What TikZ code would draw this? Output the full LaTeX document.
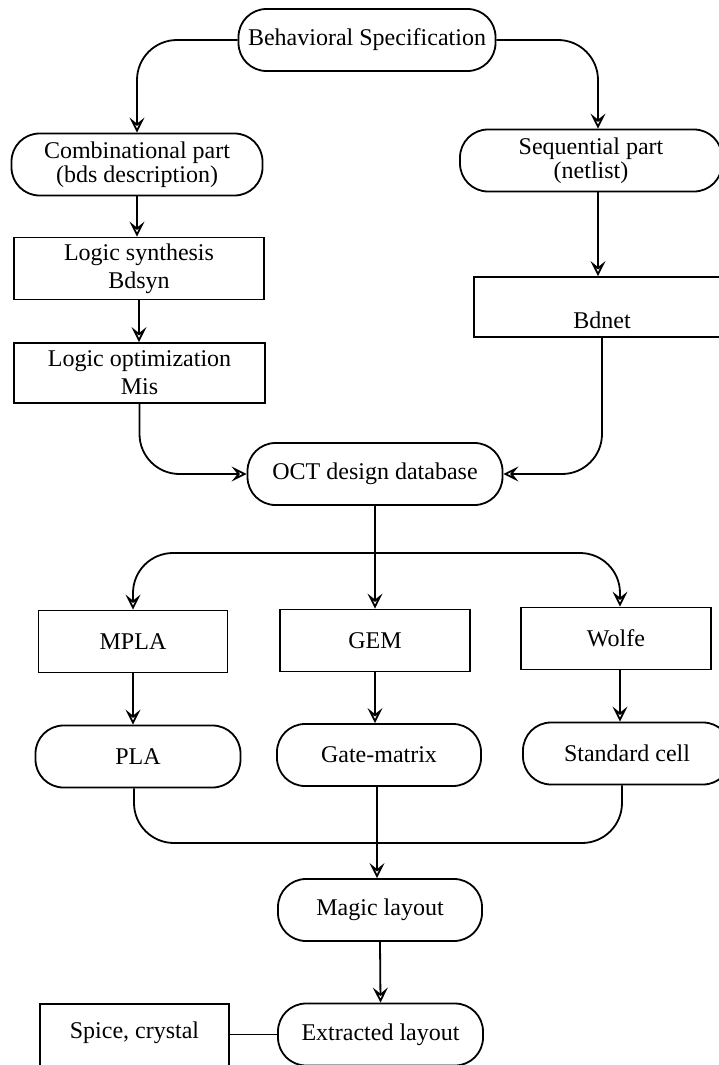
\documentclass[tikz,border=0pt]{standalone}
\usepackage{fontspec}
\setmainfont{Liberation Serif}
\usetikzlibrary{positioning, arrows.meta, calc}

\begin{document}
\begin{tikzpicture}[
  x=1pt, y=-1pt,
  font=\fontsize{24}{27}\selectfont,
  box/.style={draw, line width=1.8pt, align=center, inner sep=2pt, minimum height=62pt},
  pill/.style={box, rounded corners=28pt},
  rect/.style={box},
  flow/.style={line width=1.8pt, rounded corners=40pt},
  arr/.style={flow, -{Stealth[open, length=15pt, width=15pt, inset=6pt]}}
]
\useasboundingbox (0,0) rectangle (719,1065);
\clip (0,0) rectangle (719,1065);

% specification and its two parts
\node[pill, minimum width=257pt] (beh)  at (367,40)    {Behavioral Specification};
\node[pill, minimum width=251pt] (comb) at (137,164.5) {Combinational part\\[-3pt](bds description)};
\node[pill, minimum width=262pt] (seq)  at (591,160.5) {Sequential part\\[-3pt](netlist)};

% synthesis chain on the left, netlist on the right
\node[rect, minimum width=250pt] (lsyn)  at (139,268.5) {Logic synthesis\\[1pt]Bdsyn};
\node[rect, minimum width=251pt, minimum height=60pt] (lopt) at (139.5,373) {Logic optimization\\[1pt]Mis};
\node[rect, minimum width=256pt, minimum height=60pt] (bdnet) at (602,307) {\phantom{B}\\[1pt]Bdnet};

% database
\node[pill, minimum width=255pt] (oct) at (375,474) {OCT design database};

% generators and layout styles
\node[rect, minimum width=189pt] (mpla)  at (133,641.5) {MPLA};
\node[rect, minimum width=190pt] (gem)   at (375,640.5) {GEM};
\node[rect, minimum width=190pt] (wolfe) at (616,638.5) {Wolfe};
\node[pill, minimum width=205pt] (pla) at (138,756.5) {PLA};
\node[pill, minimum width=204pt] (gm)  at (379,755)   {Gate-matrix};
\node[pill, minimum width=208pt] (sc)  at (627,753.5) {Standard cell};

% final layout
\node[pill, minimum width=204pt] (magic) at (380,910)    {Magic layout};
\node[pill, minimum width=205pt] (ext)   at (380.5,1034.5) {Extracted layout};
\node[rect, minimum width=189pt, minimum height=92pt] (spice) at (134.5,1050) {Spice, crystal\\[4pt]\strut};

\coordinate (split) at (375,553);
\coordinate (join)  at (377,843);

% connectors
\draw[arr] (beh.west) -| (comb.north);
\draw[arr] (beh.east) -| ([xshift=7pt]seq.north);
\draw[arr] (comb.south) -- (comb.south |- lsyn.north);
\draw[arr] (lsyn.south) -- (lsyn.south |- lopt.north);
\draw[arr] ([xshift=7pt]seq.south) -- ([xshift=7pt]seq.south |- bdnet.north);
\draw[arr] (lopt.south) |- (oct.west);
\draw[arr] (bdnet.south) |- (oct.east);
\draw[arr] (oct.south) -- (gem.north);
\draw[arr] (split) -| (mpla.north);
\draw[arr] (split) -| ([xshift=4pt]wolfe.north);
\draw[arr] (mpla.south) -- (mpla.south |- pla.north);
\draw[arr] (gem.south) -- (gem.south |- gm.north);
\draw[arr] ([xshift=4pt]wolfe.south) -- ([xshift=4pt]wolfe.south |- sc.north);
\draw[flow] ([xshift=-4pt]pla.south) |- (join);
\draw[flow] ([xshift=-5pt]sc.south) |- (join);
\draw[arr] ([xshift=-2pt]gm.south) -- ([xshift=-2pt]gm.south |- magic.north);
\draw[arr] (magic.south) -- (ext.north);
\draw[flow] (spice.east |- ext.west) -- (ext.west);

\end{tikzpicture}
\end{document}
